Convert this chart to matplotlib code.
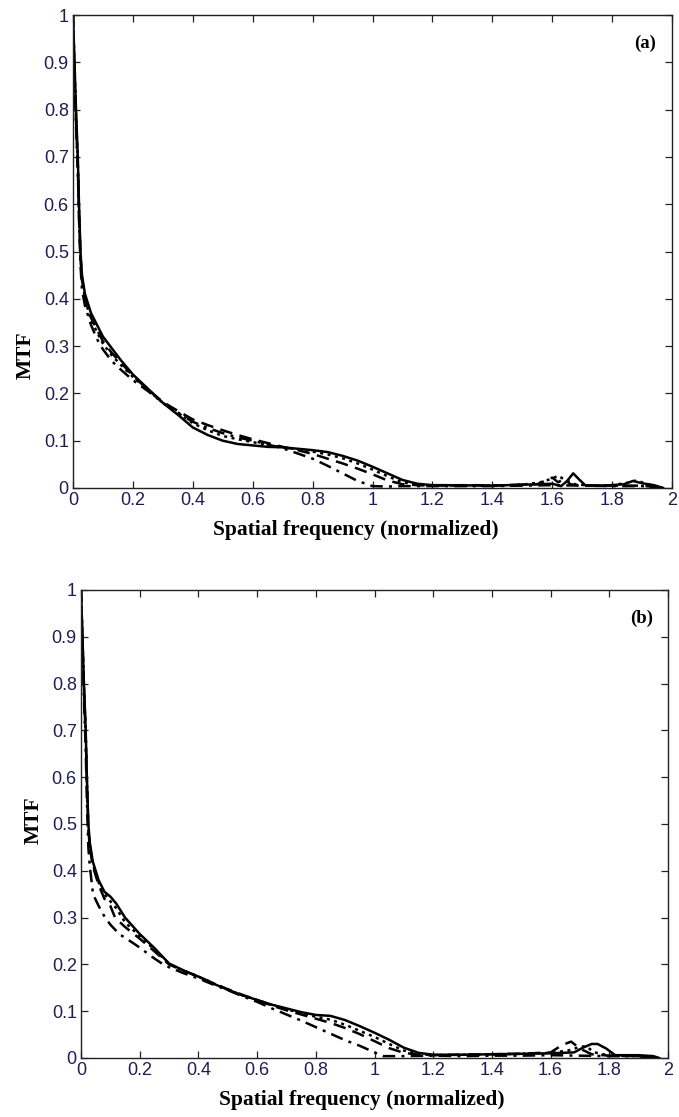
import matplotlib
matplotlib.use("Agg")
import matplotlib.pyplot as plt

# ---------------- Panel (a) data ----------------
a_solid_x = [0, 0.005, 0.01, 0.016, 0.02, 0.025, 0.03, 0.04, 0.06, 0.08, 0.1, 0.13, 0.16, 0.2, 0.25, 0.3,
             0.35, 0.4, 0.45, 0.5, 0.55, 0.6, 0.65, 0.7, 0.75, 0.8, 0.85, 0.9, 0.95, 1.0, 1.05, 1.1, 1.15,
             1.2, 1.25, 1.3, 1.35, 1.4, 1.45, 1.5, 1.55, 1.6, 1.63, 1.65, 1.67, 1.69, 1.71, 1.75, 1.8, 1.84,
             1.87, 1.9, 1.94, 1.97]
a_solid_y = [1.0, 0.9, 0.8, 0.7, 0.6, 0.5, 0.45, 0.41, 0.37, 0.345, 0.32, 0.295, 0.27, 0.24, 0.21, 0.18,
             0.155, 0.128, 0.112, 0.1, 0.093, 0.09, 0.087, 0.086, 0.083, 0.08, 0.076, 0.068, 0.058, 0.045,
             0.031, 0.017, 0.009, 0.006, 0.006, 0.005, 0.006, 0.005, 0.006, 0.007, 0.008, 0.009, 0.004,
             0.015, 0.031, 0.018, 0.006, 0.005, 0.006, 0.008, 0.015, 0.01, 0.006, 0.0]

a_dash_x = [0, 0.005, 0.01, 0.016, 0.02, 0.025, 0.03, 0.04, 0.06, 0.08, 0.1, 0.13, 0.16, 0.2, 0.25, 0.3,
            0.35, 0.4, 0.45, 0.5, 0.55, 0.6, 0.65, 0.7, 0.75, 0.8, 0.85, 0.9, 0.95, 1.0, 1.05, 1.1, 1.15,
            1.2, 1.3, 1.4, 1.5, 1.55, 1.58, 1.6, 1.62, 1.64, 1.66, 1.7, 1.8, 1.9, 1.97]
a_dash_y = [1.0, 0.88, 0.78, 0.68, 0.58, 0.49, 0.44, 0.4, 0.36, 0.335, 0.31, 0.285, 0.265, 0.237, 0.208,
            0.182, 0.163, 0.145, 0.133, 0.122, 0.112, 0.103, 0.095, 0.087, 0.08, 0.072, 0.062, 0.052,
            0.041, 0.029, 0.016, 0.008, 0.006, 0.005, 0.006, 0.005, 0.007, 0.008, 0.016, 0.022, 0.012,
            0.02, 0.008, 0.005, 0.005, 0.005, 0.0]

a_dot_x = [0, 0.005, 0.01, 0.016, 0.02, 0.025, 0.03, 0.04, 0.06, 0.08, 0.1, 0.13, 0.16, 0.2, 0.25, 0.3,
           0.35, 0.4, 0.45, 0.5, 0.55, 0.6, 0.65, 0.7, 0.75, 0.8, 0.85, 0.9, 0.95, 1.0, 1.05, 1.1, 1.15,
           1.2, 1.3, 1.4, 1.5, 1.56, 1.6, 1.62, 1.64, 1.68, 1.75, 1.8, 1.86, 1.88, 1.92, 1.97]
a_dot_y = [1.0, 0.89, 0.79, 0.69, 0.59, 0.49, 0.44, 0.4, 0.355, 0.33, 0.305, 0.28, 0.26, 0.235, 0.207,
           0.18, 0.16, 0.137, 0.122, 0.11, 0.103, 0.097, 0.091, 0.086, 0.082, 0.077, 0.071, 0.063, 0.052,
           0.039, 0.025, 0.012, 0.007, 0.005, 0.006, 0.005, 0.007, 0.012, 0.02, 0.026, 0.018, 0.007,
           0.005, 0.006, 0.012, 0.016, 0.008, 0.0]

a_dd_x = [0, 0.005, 0.01, 0.016, 0.02, 0.025, 0.03, 0.04, 0.06, 0.08, 0.1, 0.13, 0.16, 0.2, 0.25, 0.3,
          0.35, 0.4, 0.45, 0.5, 0.55, 0.6, 0.65, 0.7, 0.75, 0.8, 0.85, 0.9, 0.95, 1.0, 1.05, 1.1, 1.2,
          1.3, 1.4, 1.5, 1.6, 1.7, 1.8, 1.9, 1.97]
a_dd_y = [1.0, 0.87, 0.77, 0.67, 0.57, 0.47, 0.42, 0.385, 0.345, 0.315, 0.293, 0.268, 0.25, 0.228, 0.205,
          0.18, 0.158, 0.14, 0.127, 0.116, 0.107, 0.1, 0.092, 0.084, 0.073, 0.062, 0.047, 0.031, 0.015,
          0.004, 0.003, 0.004, 0.004, 0.004, 0.004, 0.005, 0.006, 0.005, 0.004, 0.004, 0.0]

# ---------------- Panel (b) data ----------------
b_solid_x = [0, 0.005, 0.01, 0.016, 0.02, 0.025, 0.03, 0.04, 0.06, 0.08, 0.1, 0.12, 0.15, 0.2, 0.25, 0.3,
             0.35, 0.4, 0.45, 0.5, 0.55, 0.6, 0.65, 0.7, 0.75, 0.8, 0.85, 0.9, 0.95, 1.0, 1.05, 1.1, 1.15,
             1.2, 1.3, 1.4, 1.5, 1.6, 1.68, 1.71, 1.74, 1.76, 1.79, 1.82, 1.9, 1.95, 1.97]
b_solid_y = [1.0, 0.9, 0.8, 0.7, 0.6, 0.5, 0.46, 0.42, 0.38, 0.355, 0.345, 0.33, 0.3, 0.265, 0.235, 0.202,
             0.187, 0.174, 0.159, 0.146, 0.134, 0.124, 0.114, 0.106, 0.098, 0.092, 0.09, 0.081, 0.068,
             0.054, 0.039, 0.022, 0.011, 0.007, 0.007, 0.008, 0.009, 0.01, 0.012, 0.022, 0.03, 0.03,
             0.02, 0.006, 0.006, 0.004, 0.0]

b_dash_x = [0, 0.005, 0.01, 0.016, 0.02, 0.025, 0.03, 0.04, 0.06, 0.08, 0.1, 0.116, 0.15, 0.2, 0.25, 0.3,
            0.35, 0.4, 0.45, 0.5, 0.55, 0.6, 0.65, 0.7, 0.75, 0.8, 0.85, 0.9, 0.95, 1.0, 1.05, 1.1, 1.15,
            1.2, 1.3, 1.4, 1.5, 1.6, 1.64, 1.67, 1.7, 1.74, 1.8, 1.9, 1.97]
b_dash_y = [1.0, 0.89, 0.79, 0.69, 0.59, 0.49, 0.45, 0.41, 0.37, 0.34, 0.325, 0.3, 0.28, 0.255, 0.228,
            0.2, 0.186, 0.174, 0.16, 0.147, 0.135, 0.124, 0.112, 0.102, 0.093, 0.084, 0.075, 0.064,
            0.051, 0.036, 0.021, 0.011, 0.007, 0.006, 0.007, 0.008, 0.009, 0.012, 0.028, 0.035, 0.02,
            0.008, 0.005, 0.004, 0.0]

b_dot_x = [0, 0.005, 0.01, 0.016, 0.02, 0.025, 0.03, 0.04, 0.06, 0.08, 0.1, 0.12, 0.15, 0.2, 0.25, 0.3,
           0.35, 0.4, 0.45, 0.5, 0.55, 0.6, 0.65, 0.7, 0.75, 0.8, 0.85, 0.9, 0.95, 1.0, 1.05, 1.1, 1.15,
           1.2, 1.3, 1.4, 1.5, 1.6, 1.66, 1.7, 1.72, 1.75, 1.8, 1.9, 1.97]
b_dot_y = [1.0, 0.895, 0.795, 0.695, 0.595, 0.495, 0.455, 0.415, 0.375, 0.35, 0.335, 0.32, 0.29, 0.26,
           0.232, 0.201, 0.186, 0.174, 0.16, 0.146, 0.134, 0.124, 0.113, 0.104, 0.096, 0.088, 0.082,
           0.071, 0.058, 0.045, 0.03, 0.016, 0.009, 0.006, 0.007, 0.008, 0.009, 0.011, 0.016, 0.024,
           0.025, 0.012, 0.005, 0.004, 0.0]

b_dd_x = [0, 0.005, 0.01, 0.016, 0.02, 0.025, 0.03, 0.041, 0.06, 0.082, 0.1, 0.13, 0.167, 0.2, 0.24, 0.28,
          0.3, 0.35, 0.4, 0.45, 0.5, 0.55, 0.6, 0.65, 0.7, 0.75, 0.8, 0.85, 0.9, 0.95, 1.0, 1.03, 1.1,
          1.2, 1.3, 1.4, 1.5, 1.6, 1.7, 1.8, 1.9, 1.97]
b_dd_y = [1.0, 0.88, 0.77, 0.66, 0.55, 0.45, 0.41, 0.35, 0.325, 0.3, 0.285, 0.265, 0.25, 0.236, 0.217,
          0.2, 0.194, 0.181, 0.17, 0.157, 0.145, 0.132, 0.12, 0.106, 0.093, 0.08, 0.066, 0.052, 0.038,
          0.026, 0.012, 0.004, 0.004, 0.005, 0.004, 0.005, 0.005, 0.006, 0.005, 0.004, 0.004, 0.0]

x_ticks = [0, 0.2, 0.4, 0.6, 0.8, 1, 1.2, 1.4, 1.6, 1.8, 2]
x_ticklabels = ["0", "0.2", "0.4", "0.6", "0.8", "1", "1.2", "1.4", "1.6", "1.8", "2"]
y_ticks = [0, 0.1, 0.2, 0.3, 0.4, 0.5, 0.6, 0.7, 0.8, 0.9, 1]
y_ticklabels = ["0", "0.1", "0.2", "0.3", "0.4", "0.5", "0.6", "0.7", "0.8", "0.9", "1"]
x_label = "Spatial frequency (normalized)"
y_label = "MTF"
panel_labels = ["(a)", "(b)"]

W, H = 679, 1117
fig = plt.figure(figsize=(W / 100, H / 100), dpi=100)
fig.patch.set_facecolor("white")

def frac_box(l, t, r, b):
    return [l / W, 1 - b / H, (r - l) / W, (b - t) / H]

tick_color = "#1e1e55"
serif = ["Liberation Serif", "DejaVu Serif"]
sans = ["Liberation Sans", "DejaVu Sans"]

styles = [("-", None), ("--", (0, (5, 3))), (":", (0, (1.2, 1.8))), ("-.", (0, (5, 2.5, 1.2, 2.5)))]

def make_panel(box, series, label):
    ax = fig.add_axes(frac_box(*box))
    for (xs, ys), (ls, dash) in zip(series, styles):
        line, = ax.plot(xs, ys, color="black", lw=1.8, linestyle=ls)
        if dash is not None:
            line.set_linestyle(dash)
    ax.set_xlim(0, 2)
    ax.set_ylim(0, 1)
    ax.set_xticks(x_ticks)
    ax.set_xticklabels(x_ticklabels)
    ax.set_yticks(y_ticks)
    ax.set_yticklabels(y_ticklabels)
    ax.tick_params(direction="in", length=5, width=0.9, top=True, right=True,
                   labelsize=13, labelcolor=tick_color, color="#222222", pad=3)
    for lab in ax.get_xticklabels() + ax.get_yticklabels():
        lab.set_fontfamily(sans)
    for s in ax.spines.values():
        s.set_linewidth(1.0)
        s.set_color("#222222")
    ax.text(0.955, 0.94, label, transform=ax.transAxes, ha="center", va="center",
            fontsize=13.5, fontweight="bold", family=serif)
    return ax

make_panel((73, 15, 672, 488),
           [(a_solid_x, a_solid_y), (a_dash_x, a_dash_y), (a_dot_x, a_dot_y), (a_dd_x, a_dd_y)],
           panel_labels[0])
make_panel((81, 590, 668, 1058),
           [(b_solid_x, b_solid_y), (b_dash_x, b_dash_y), (b_dot_x, b_dot_y), (b_dd_x, b_dd_y)],
           panel_labels[1])

fig.text(356 / W, 1 - 530 / H, x_label, ha="center", va="center", fontsize=15.5,
         fontweight="bold", family=serif)
fig.text(362 / W, 1 - 1100 / H, x_label, ha="center", va="center", fontsize=15.5,
         fontweight="bold", family=serif)
fig.text(26 / W, 1 - 355 / H, y_label, ha="center", va="center", fontsize=15.5,
         fontweight="bold", family=serif, rotation=90)
fig.text(34 / W, 1 - 820 / H, y_label, ha="center", va="center", fontsize=15.5,
         fontweight="bold", family=serif, rotation=90)

fig.savefig("out.png", dpi=100, facecolor="white")
